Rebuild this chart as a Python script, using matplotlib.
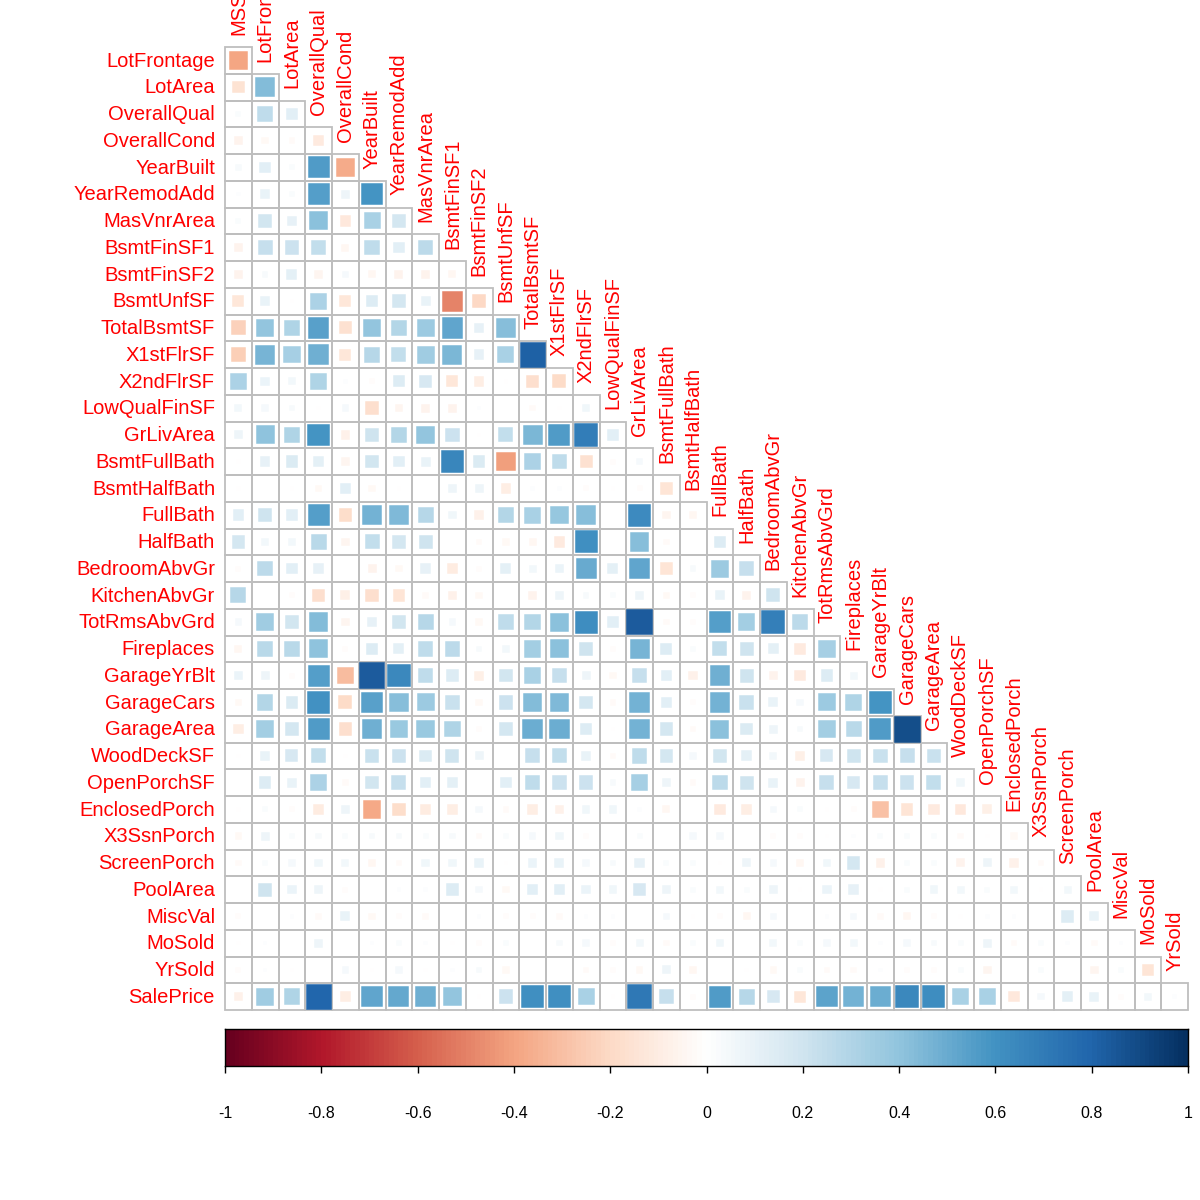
import numpy as np
import matplotlib
matplotlib.use("Agg")
import matplotlib.pyplot as plt
from matplotlib.colors import LinearSegmentedColormap
from matplotlib.patches import Rectangle

plt.rcParams['font.family'] = ['Liberation Sans', 'DejaVu Sans']

variables = ["MSSubClass", "LotFrontage", "LotArea", "OverallQual", "OverallCond",
             "YearBuilt", "YearRemodAdd", "MasVnrArea", "BsmtFinSF1", "BsmtFinSF2",
             "BsmtUnfSF", "TotalBsmtSF", "X1stFlrSF", "X2ndFlrSF", "LowQualFinSF",
             "GrLivArea", "BsmtFullBath", "BsmtHalfBath", "FullBath", "HalfBath",
             "BedroomAbvGr", "KitchenAbvGr", "TotRmsAbvGrd", "Fireplaces", "GarageYrBlt",
             "GarageCars", "GarageArea", "WoodDeckSF", "OpenPorchSF", "EnclosedPorch",
             "X3SsnPorch", "ScreenPorch", "PoolArea", "MiscVal", "MoSold", "YrSold",
             "SalePrice"]

# lower-triangle correlations: row k holds cor(variables[k+1], variables[0..k])
r_LotFrontage = [-0.40]
r_LotArea = [-0.16, 0.43]
r_OverallQual = [0.02, 0.25, 0.13]
r_OverallCond = [-0.07, -0.04, -0.03, -0.12]
r_YearBuilt = [0.03, 0.12, 0.02, 0.57, -0.38]
r_YearRemodAdd = [0.01, 0.09, 0.02, 0.55, 0.07, 0.59]
r_MasVnrArea = [0.02, 0.19, 0.10, 0.41, -0.13, 0.32, 0.18]
r_BsmtFinSF1 = [-0.07, 0.23, 0.21, 0.24, -0.05, 0.25, 0.13, 0.26]
r_BsmtFinSF2 = [-0.07, 0.03, 0.11, -0.06, 0.04, -0.05, -0.07, -0.07, -0.05]
r_BsmtUnfSF = [-0.14, 0.09, -0.01, 0.31, -0.14, 0.15, 0.18, 0.09, -0.50, -0.21]
r_TotalBsmtSF = [-0.24, 0.39, 0.30, 0.54, -0.17, 0.39, 0.29, 0.36, 0.52, 0.10, 0.42]
r_X1stFlrSF = [-0.25, 0.46, 0.33, 0.48, -0.14, 0.28, 0.24, 0.35, 0.45, 0.10, 0.32, 0.82]
r_X2ndFlrSF = [0.31, 0.08, 0.05, 0.30, 0.01, -0.02, 0.14, 0.17, -0.14, -0.10, -0.01, -0.18, -0.20]
r_LowQualFinSF = [0.05, 0.04, 0.03, -0.01, 0.04, -0.18, -0.06, -0.07, -0.07, 0.01, 0.00, -0.03, -0.01, 0.06]
r_GrLivArea = [0.07, 0.40, 0.30, 0.59, -0.08, 0.20, 0.29, 0.39, 0.21, -0.01, 0.24, 0.45, 0.57, 0.69, 0.13]
r_BsmtFullBath = [-0.01, 0.10, 0.16, 0.11, -0.06, 0.19, 0.12, 0.09, 0.65, 0.16, -0.42, 0.31, 0.25, -0.17,
                  -0.02, 0.04]
r_BsmtHalfBath = [-0.01, 0.00, -0.01, -0.04, 0.12, -0.04, -0.01, 0.00, 0.07, 0.07, -0.10, 0.01, 0.01,
                  -0.02, -0.01, -0.02, -0.15]
r_FullBath = [0.13, 0.20, 0.13, 0.55, -0.19, 0.47, 0.44, 0.28, 0.06, -0.08, 0.29, 0.32, 0.38, 0.42,
              0.00, 0.63, -0.06, -0.05]
r_HalfBath = [0.18, 0.05, 0.05, 0.27, -0.06, 0.24, 0.18, 0.20, 0.00, -0.03, -0.04, -0.05, -0.12, 0.61,
              0.00, 0.42, -0.03, 0.00, 0.14]
r_BedroomAbvGr = [-0.02, 0.26, 0.12, 0.10, 0.00, -0.07, -0.04, 0.10, -0.11, -0.02, 0.11, 0.05, 0.08,
                  0.50, 0.11, 0.52, -0.15, 0.03, 0.36, 0.23]
r_KitchenAbvGr = [0.28, 0.00, -0.02, -0.18, -0.09, -0.18, -0.15, -0.03, -0.08, -0.04, 0.00, -0.07, 0.07,
                  0.03, 0.02, 0.07, -0.04, -0.02, 0.09, -0.07, 0.20]
r_TotRmsAbvGrd = [0.04, 0.35, 0.19, 0.43, -0.06, 0.10, 0.19, 0.28, 0.04, -0.04, 0.25, 0.29, 0.41, 0.62,
                  0.13, 0.83, -0.03, -0.02, 0.55, 0.34, 0.68, 0.26]
r_Fireplaces = [-0.05, 0.27, 0.27, 0.40, -0.02, 0.15, 0.11, 0.25, 0.26, 0.03, 0.05, 0.34, 0.41, 0.20,
                -0.02, 0.46, 0.14, 0.02, 0.24, 0.20, 0.11, -0.12, 0.33]
r_GarageYrBlt = [0.08, 0.07, -0.02, 0.55, -0.32, 0.83, 0.64, 0.25, 0.15, -0.09, 0.19, 0.32, 0.23, 0.07,
                 -0.04, 0.23, 0.12, -0.08, 0.48, 0.20, -0.07, -0.12, 0.15, 0.05]
r_GarageCars = [-0.04, 0.29, 0.16, 0.60, -0.20, 0.54, 0.42, 0.36, 0.22, -0.04, 0.21, 0.43, 0.44, 0.18,
                -0.03, 0.47, 0.13, -0.02, 0.47, 0.22, 0.09, 0.04, 0.36, 0.30, 0.59]
r_GarageArea = [-0.10, 0.34, 0.18, 0.56, -0.18, 0.48, 0.37, 0.37, 0.30, -0.02, 0.18, 0.49, 0.49, 0.14,
                -0.01, 0.47, 0.18, -0.03, 0.41, 0.16, 0.07, 0.03, 0.34, 0.27, 0.56, 0.88]
r_WoodDeckSF = [-0.01, 0.09, 0.17, 0.24, -0.01, 0.22, 0.21, 0.16, 0.20, 0.07, 0.00, 0.23, 0.24, 0.09,
                -0.03, 0.25, 0.18, 0.04, 0.19, 0.11, 0.05, -0.09, 0.17, 0.20, 0.22, 0.23, 0.22]
r_OpenPorchSF = [0.00, 0.15, 0.09, 0.31, -0.03, 0.19, 0.23, 0.13, 0.11, 0.00, 0.13, 0.25, 0.21, 0.21,
                 0.03, 0.33, 0.07, -0.03, 0.26, 0.20, 0.09, -0.07, 0.23, 0.17, 0.23, 0.21, 0.24, 0.06]
r_EnclosedPorch = [-0.01, 0.02, -0.02, -0.11, 0.07, -0.39, -0.19, -0.11, -0.10, 0.04, -0.03, -0.10,
                   -0.08, 0.06, 0.06, 0.01, -0.05, 0.00, -0.12, -0.10, 0.04, 0.02, -0.01, -0.02, -0.30,
                   -0.15, -0.12, -0.13, -0.09]
r_X3SsnPorch = [-0.04, 0.07, 0.02, 0.03, 0.02, 0.03, 0.03, 0.02, 0.03, -0.03, 0.02, 0.04, 0.06, -0.02,
                0.00, 0.02, 0.00, 0.04, 0.04, 0.00, -0.02, -0.02, -0.01, 0.01, 0.02, 0.02, 0.02, -0.03,
                -0.01, -0.04]
r_ScreenPorch = [-0.03, 0.02, 0.04, 0.06, 0.05, -0.05, -0.03, 0.06, 0.06, 0.09, -0.01, 0.08, 0.09, 0.04,
                 0.03, 0.10, 0.02, 0.02, -0.01, 0.07, 0.04, -0.05, 0.06, 0.18, -0.08, 0.02, 0.02, -0.07,
                 0.07, -0.08, -0.03]
r_PoolArea = [0.00, 0.20, 0.08, 0.07, -0.02, 0.00, 0.01, 0.01, 0.15, 0.04, -0.04, 0.13, 0.13, 0.08, 0.06,
              0.17, 0.07, 0.02, 0.05, 0.02, 0.07, -0.01, 0.08, 0.10, -0.01, 0.02, 0.06, 0.05, 0.02, 0.05,
              -0.01, 0.05]
r_MiscVal = [-0.02, 0.00, 0.01, -0.03, 0.09, -0.04, -0.02, -0.03, 0.00, 0.01, -0.02, -0.02, -0.03, 0.01,
             0.01, 0.00, 0.04, -0.01, -0.02, -0.05, 0.04, 0.00, 0.01, 0.04, -0.03, -0.05, -0.02, -0.01,
             0.01, 0.01, 0.00, 0.15, 0.09]
r_MoSold = [-0.01, 0.01, 0.00, 0.07, 0.00, 0.01, 0.02, 0.01, -0.01, -0.02, 0.02, 0.00, 0.03, 0.04, -0.02,
            0.05, -0.03, 0.02, 0.06, 0.00, 0.05, 0.02, 0.04, 0.05, 0.01, 0.04, 0.03, 0.02, 0.07, -0.03,
            0.02, 0.01, -0.03, 0.01]
r_YrSold = [-0.02, 0.01, -0.01, 0.00, 0.04, -0.01, 0.04, -0.01, 0.01, 0.03, -0.04, 0.00, 0.00, -0.03,
            -0.02, -0.04, 0.07, -0.05, 0.00, -0.01, -0.04, 0.02, -0.03, -0.03, 0.01, -0.02, -0.02, 0.02,
            -0.06, 0.00, 0.02, 0.00, -0.06, 0.02, -0.15]
r_SalePrice = [-0.08, 0.35, 0.30, 0.79, -0.10, 0.52, 0.51, 0.48, 0.39, -0.01, 0.21, 0.61, 0.61, 0.32,
               -0.01, 0.71, 0.23, -0.02, 0.56, 0.28, 0.17, -0.14, 0.53, 0.47, 0.49, 0.64, 0.62, 0.32,
               0.32, -0.13, 0.04, 0.11, 0.09, -0.02, 0.05, 0.01]

rows = [r_LotFrontage, r_LotArea, r_OverallQual, r_OverallCond, r_YearBuilt, r_YearRemodAdd,
        r_MasVnrArea, r_BsmtFinSF1, r_BsmtFinSF2, r_BsmtUnfSF, r_TotalBsmtSF, r_X1stFlrSF,
        r_X2ndFlrSF, r_LowQualFinSF, r_GrLivArea, r_BsmtFullBath, r_BsmtHalfBath, r_FullBath,
        r_HalfBath, r_BedroomAbvGr, r_KitchenAbvGr, r_TotRmsAbvGrd, r_Fireplaces, r_GarageYrBlt,
        r_GarageCars, r_GarageArea, r_WoodDeckSF, r_OpenPorchSF, r_EnclosedPorch, r_X3SsnPorch,
        r_ScreenPorch, r_PoolArea, r_MiscVal, r_MoSold, r_YrSold, r_SalePrice]

colorbar_ticks = [-1, -0.8, -0.6, -0.4, -0.2, 0, 0.2, 0.4, 0.6, 0.8, 1]
colorbar_labels = ["-1", "-0.8", "-0.6", "-0.4", "-0.2", "0", "0.2", "0.4", "0.6", "0.8", "1"]

palette = ["#67001F", "#B2182B", "#D6604D", "#F4A582", "#FDDBC7", "#FFFFFF",
           "#D1E5F0", "#92C5DE", "#4393C3", "#2166AC", "#053061"]
cmap = LinearSegmentedColormap.from_list("corrRdBu", palette, N=200)

W = H = 1200
fig = plt.figure(figsize=(12, 12), dpi=100)
fig.patch.set_facecolor("white")

gx0, gx1, gy0, gy1 = 225, 1188, 47, 1010
ax = fig.add_axes([gx0 / W, 1 - gy1 / H, (gx1 - gx0) / W, (gy1 - gy0) / H])
n = len(rows)
ax.set_xlim(0, n)
ax.set_ylim(n, 0)
ax.axis("off")

cell_px = (gx1 - gx0) / n
grid_col = "#BEBEBE"
label_col = "#FF0000"
fs = 14.5

# grid
for i, row in enumerate(rows):
    for j in range(len(row)):
        ax.add_patch(Rectangle((j, i), 1, 1, facecolor="none", edgecolor=grid_col,
                               lw=1.3, zorder=1, clip_on=False))
# squares
for i, row in enumerate(rows):
    for j, v in enumerate(row):
        side = np.sqrt(abs(v))
        if side <= 0:
            continue
        c = cmap((v + 1) / 2)
        ax.add_patch(Rectangle((j + 0.5 - side / 2, i + 0.5 - side / 2), side, side,
                               facecolor=c, edgecolor=c, lw=1.1, zorder=2, clip_on=False))

# row labels
for i in range(n):
    ax.text(-10 / cell_px, i + 0.5 + 0.03, variables[i + 1], ha="right", va="center",
            color=label_col, fontsize=fs, clip_on=False)
# column labels (on the diagonal)
for j in range(n):
    ax.text(j + 0.5, j - 0.5 + 0.05, variables[j], rotation=90, ha="center", va="bottom",
            color=label_col, fontsize=fs, clip_on=False)

# colour legend
cb_x0, cb_x1, cb_y0, cb_y1 = 225, 1188, 1029, 1066
cax = fig.add_axes([cb_x0 / W, 1 - cb_y1 / H, (cb_x1 - cb_x0) / W, (cb_y1 - cb_y0) / H])
grad = np.linspace(-1, 1, 200).reshape(1, -1)
cax.imshow(grad, cmap=cmap, vmin=-1, vmax=1, aspect="auto", extent=[-1, 1, 0, 1],
           interpolation="nearest")
cax.set_xlim(-1, 1)
cax.set_ylim(0, 1)
cax.set_yticks([])
cax.set_xticks(colorbar_ticks)
cax.set_xticklabels(colorbar_labels, fontsize=11.5)
cax.tick_params(axis="x", direction="out", length=5, width=1, pad=24, colors="black")
for s in cax.spines.values():
    s.set_color("black")
    s.set_linewidth(1)

fig.savefig("out.png", dpi=100, facecolor="white")
